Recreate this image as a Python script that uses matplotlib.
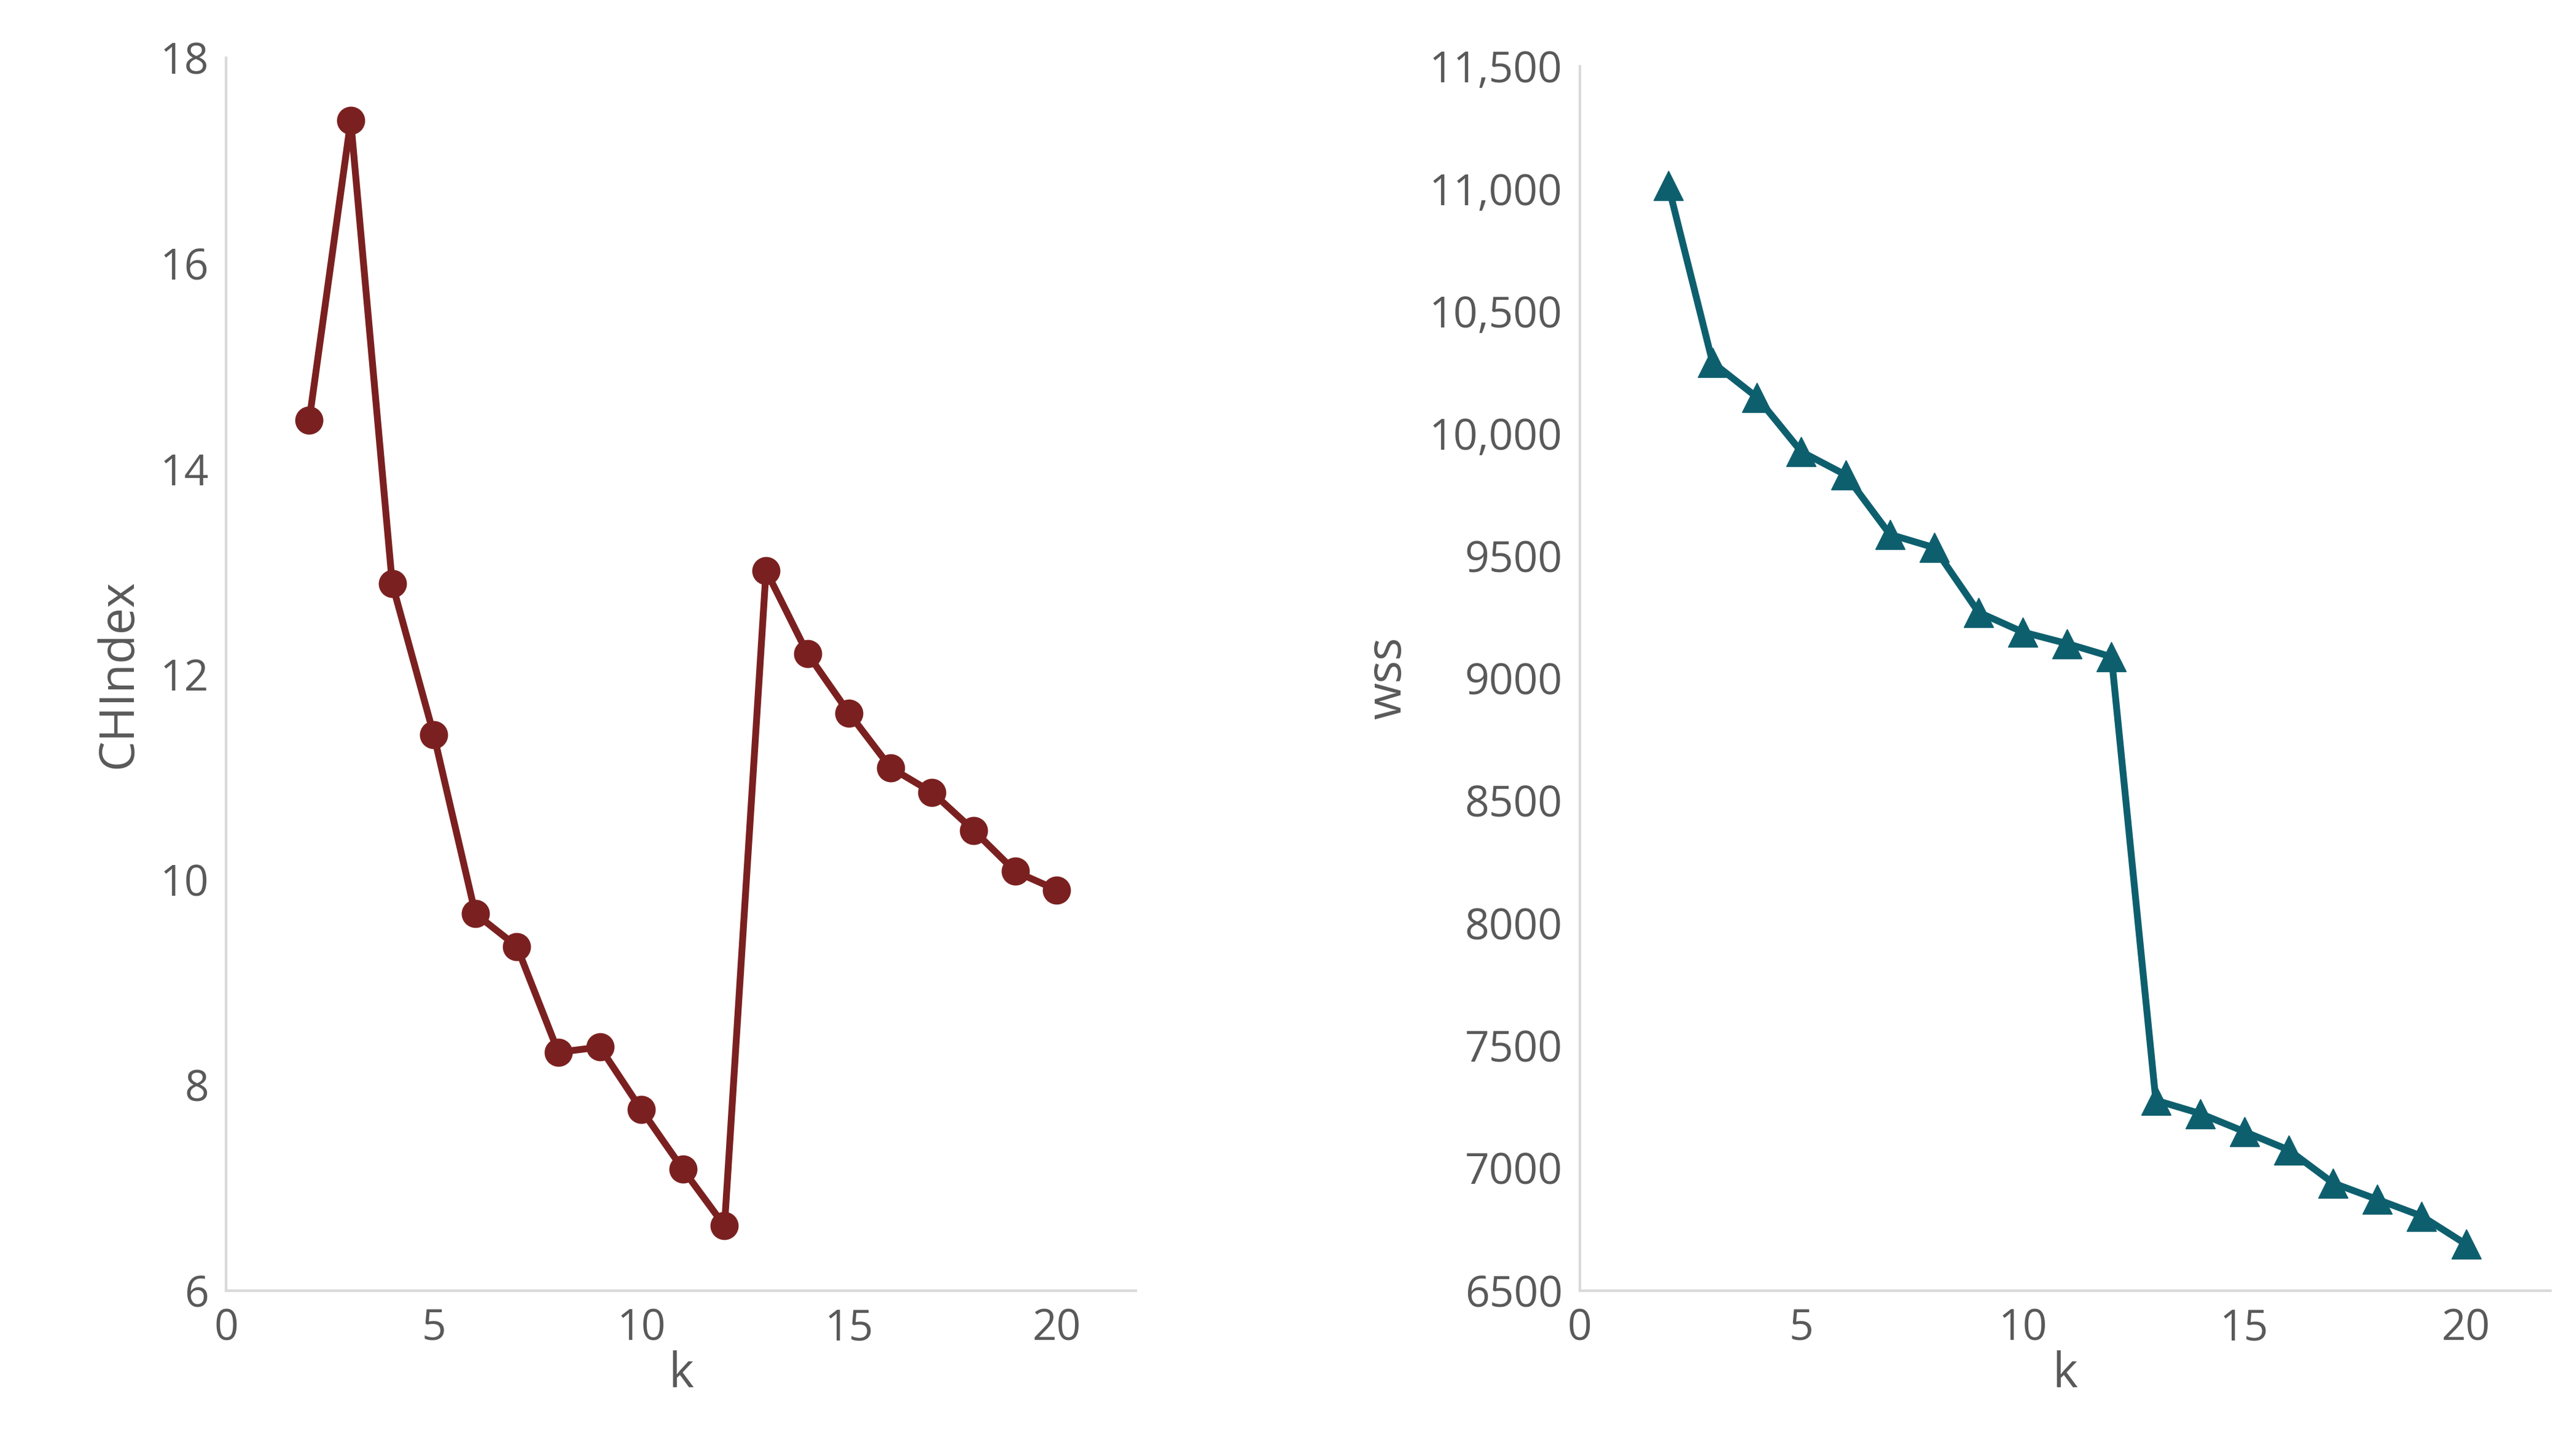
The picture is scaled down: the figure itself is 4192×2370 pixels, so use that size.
import matplotlib
matplotlib.use("Agg")
import matplotlib.pyplot as plt

k = list(range(2, 21))
chindex = [14.47, 17.39, 12.88, 11.41, 9.67, 9.35, 8.32, 8.37, 7.76, 7.18, 6.63,
           13.01, 12.2, 11.62, 11.09, 10.85, 10.48, 10.08, 9.9]
wss = [11013, 10290, 10148, 9926, 9831, 9588, 9534, 9270, 9189, 9142, 9088,
       7277, 7223, 7149, 7074, 6939, 6872, 6804, 6689]
left_yticks = [6, 8, 10, 12, 14, 16, 18]
right_yticks = [6500, 7000, 7500, 8000, 8500, 9000, 9500, 10000, 10500, 11000, 11500]
right_ylabels = ["6500", "7000", "7500", "8000", "8500", "9000", "9500",
                 "10,000", "10,500", "11,000", "11,500"]
xticks = [0, 5, 10, 15, 20]

plt.rcParams['font.family'] = ['Open Sans', 'DejaVu Sans']
gray = '#595959'
fs = 50
W, H = 4192, 2370
fig = plt.figure(figsize=(W/100, H/100), dpi=100)
ax1 = fig.add_axes([137/1560, 1-780/880, (688-137)/1560, (780-35)/880])
ax2 = fig.add_axes([957/1560, 1-780/880, (1545-957)/1560, (780-40)/880])

ax1.plot(k, chindex, color='#7B2020', lw=8, marker='o', ms=32)
ax2.plot(k, wss, color='#0E5F6E', lw=8, marker='^', ms=34)

for ax in (ax1, ax2):
    ax.set_xlim(0, 21.9)
    ax.set_xticks(xticks)
    for s in ('top', 'right'):
        ax.spines[s].set_visible(False)
    for s in ('left', 'bottom'):
        ax.spines[s].set_color('#d9d9d9')
        ax.spines[s].set_linewidth(3)
    ax.tick_params(length=0, labelsize=fs, labelcolor=gray, pad=20)
    ax.set_xlabel('k', fontsize=fs+6, color=gray, labelpad=0)

ax1.set_ylim(6, 18)
ax1.set_yticks(left_yticks)
ax1.set_ylabel('CHIndex', fontsize=fs+6, color=gray, labelpad=20)
ax2.set_ylim(6500, 11500)
ax2.set_yticks(right_yticks)
ax2.set_yticklabels(right_ylabels)
ax2.set_ylabel('wss', fontsize=fs+6, color=gray, labelpad=20)

fig.savefig('out.png', dpi=100)
